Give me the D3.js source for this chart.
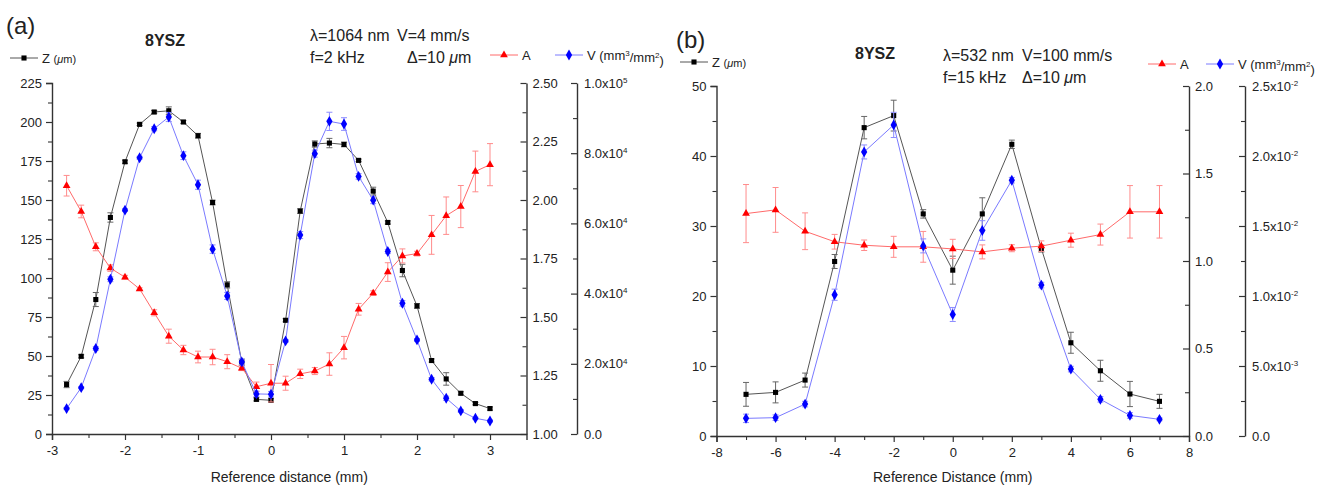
<!DOCTYPE html>
<html>
<head>
<meta charset="utf-8">
<script src="https://cdn.jsdelivr.net/npm/d3@7"></script>
<style>
  body { margin: 0; background: #fff; }
  svg text { font-family: "Liberation Sans", Arial, sans-serif; fill: #222; }
</style>
</head>
<body>
<div id="canvas"></div>
<script>
// ---- panel (a) data : lambda=1064 nm
var distA = [-2.8,-2.6,-2.4,-2.2,-2.0,-1.8,-1.6,-1.4,-1.2,-1.0,-0.8,-0.6,-0.4,-0.2,0.0,
             0.2,0.4,0.6,0.8,1.0,1.2,1.4,1.6,1.8,2.0,2.2,2.4,2.6,2.8,3.0];
var zA    = [31.7,49.8,86.2,138.8,174.5,198.5,206.4,207.2,200,191.2,148.4,95.6,46,22.2,21.6,
             72.9,142.9,185.9,186.5,185.6,175.4,155.7,135.6,104.8,82.1,47.1,35.3,26.1,19.5,16.3];
var zAerr = [2,1,4.5,3,1,0.8,1,2.5,1,1.5,1.5,2,2,1,1,1,1.5,2,3,1.5,0.8,2.5,1,4,1.5,1,4,1,0.8,1];
var aA    = [2.061,1.951,1.800,1.709,1.670,1.620,1.518,1.418,1.359,1.329,1.329,1.309,1.281,1.202,1.217,
             1.217,1.257,1.269,1.299,1.369,1.533,1.602,1.692,1.761,1.771,1.851,1.933,1.972,2.122,2.151];
var aAerr = [0.044,0.027,0.017,0.014,0.008,0.005,0.013,0.03,0.02,0.025,0.033,0.03,0.01,0.02,0.08,
             0.03,0.02,0.015,0.048,0.048,0.025,0.01,0.04,0.03,0.01,0.083,0.08,0.09,0.087,0.09];
var vA    = [7240,13200,24360,44090,63780,78710,86980,90310,79290,71020,52670,39330,20530,11420,11330,
             26530,56670,79870,89070,88310,73380,66620,52000,37240,26800,15600,10180,6580,4490,3690];
var vAerr = [300,300,500,700,400,400,600,1300,1100,1300,1200,1000,800,800,800,
             400,1000,1000,2600,1800,800,1000,600,800,400,500,600,400,300,300];

var xTicksA = [-3,-2,-1,0,1,2,3];
var zTicksA = [0,25,50,75,100,125,150,175,200,225];
var aTicksA = [1.00,1.25,1.50,1.75,2.00,2.25,2.50];
var vTicksA = [0,20000,40000,60000,80000,100000];

// ---- panel (b) data : lambda=532 nm
var distB = [-7,-6,-5,-4,-3,-2,-1,0,1,2,3,4,5,6,7];
var zB    = [5.95,6.23,7.99,24.93,44.05,45.77,31.73,23.69,31.73,41.67,26.78,13.32,9.32,6.0,4.95];
var zBerr = [1.7,1.5,1,1,1.6,2.2,0.6,2,2.3,0.6,0.5,1.5,1.5,1.8,1];
var aB    = [1.271,1.292,1.170,1.110,1.090,1.081,1.081,1.069,1.052,1.073,1.085,1.119,1.151,1.281,1.281];
var aBerr = [0.166,0.128,0.105,0.042,0.03,0.06,0.088,0.055,0.04,0.02,0.03,0.04,0.06,0.15,0.15];
var vB    = [0.00126,0.00131,0.00228,0.01009,0.02029,0.02222,0.01358,0.00868,0.01468,0.01827,
             0.01078,0.00478,0.00262,0.00147,0.00119];
var vBerr = [0.0003,0.0002,0.0002,0.0004,0.0005,0.0009,0.0005,0.0005,0.0007,0.0002,
             0.0002,0.0002,0.0002,0.0002,0.0001];

var xTicksB = [-8,-6,-4,-2,0,2,4,6,8];
var zTicksB = [0,10,20,30,40,50];
var aTicksB = [0.0,0.5,1.0,1.5,2.0];
var vTicksB = [0,0.005,0.01,0.015,0.02,0.025];

var width = 1319, height = 488;
var svg = d3.select('#canvas').append('svg')
  .attr('width', width)
  .attr('height', height);

var colZ = {line: '#555', mark: '#000', err: '#666'};
var colA = {line: '#ff6a6a', mark: '#ff0000', err: '#ff8c8c'};
var colV = {line: '#7a7aff', mark: '#0000ff', err: '#8c8cff'};

var symZ = d3.symbol().type(d3.symbolSquare).size(26);
var symA = d3.symbol().type(d3.symbolTriangle).size(26);
var symV = d3.symbol().type(d3.symbolDiamond).size(34);

// plain hyphen minus, like the original
var plain = function(d) { return String(d); };

// "m.mx10^e" style labels for the V axis
var sciLabels = function(sel) {
  sel.selectAll('.tick text').each(function(d) {
    var t = d3.select(this).text('');
    if (d === 0) { t.text('0.0'); return; }
    var e = Math.floor(Math.log10(d) + 1e-9);
    var m = (d / Math.pow(10, e)).toFixed(1);
    t.append('tspan').text(m + 'x10');
    t.append('tspan').attr('dy', '-0.6em').attr('font-size', '8px').text(e);
  });
};

var styleAxis = function(sel) {
  sel.select('.domain').attr('stroke', '#333').attr('stroke-width', 1.4);
  sel.selectAll('.tick line').attr('stroke', '#333').attr('stroke-width', 1.2);
  sel.selectAll('.tick text').attr('font-size', '13px').attr('fill', '#222');
};

// minor and major ticks each get their own group
var minorAxis = function(g, axis, vals, size) {
  g.append('g').call(axis.tickValues(vals).tickFormat('').tickSize(size))
    .call(function(s) {
      s.select('.domain').remove();
      s.selectAll('.tick line').attr('stroke', '#333').attr('stroke-width', 1.1);
    });
};

var addSeries = function(g, xs, ys, errs, x, y, col, sym) {
  var pts = xs.map(function(d, i) { return {x: d, y: ys[i], e: errs[i]}; });
  g.append('path').datum(pts)
    .attr('fill', 'none')
    .attr('stroke', col.line)
    .attr('stroke-width', 1)
    .attr('d', d3.line().x(function(d) { return x(d.x); }).y(function(d) { return y(d.y); }));
  var eb = g.append('g').attr('stroke', col.err).attr('stroke-width', 1);
  eb.selectAll('line.v').data(pts).enter().append('line')
    .attr('x1', function(d) { return x(d.x); })
    .attr('x2', function(d) { return x(d.x); })
    .attr('y1', function(d) { return y(d.y - d.e); })
    .attr('y2', function(d) { return y(d.y + d.e); });
  [-1, 1].forEach(function(s) {
    eb.selectAll('line.c' + s).data(pts).enter().append('line')
      .attr('x1', function(d) { return x(d.x) - 3; })
      .attr('x2', function(d) { return x(d.x) + 3; })
      .attr('y1', function(d) { return y(d.y + s * d.e); })
      .attr('y2', function(d) { return y(d.y + s * d.e); });
  });
  g.append('g').selectAll('path').data(pts).enter().append('path')
    .attr('d', sym)
    .attr('fill', col.mark)
    .attr('transform', function(d) { return 'translate(' + x(d.x) + ',' + y(d.y) + ')'; });
};

var legendItem = function(x0, y0, col, sym, label) {
  var g = svg.append('g');
  g.append('line').attr('x1', x0).attr('x2', x0 + 28).attr('y1', y0).attr('y2', y0)
    .attr('stroke', col.line).attr('stroke-width', 1);
  g.append('path').attr('d', sym).attr('fill', col.mark)
    .attr('transform', 'translate(' + (x0 + 14) + ',' + y0 + ')');
  var t = g.append('text').attr('x', x0 + 32).attr('y', y0 + 4.5).attr('font-size', '13px');
  label(t);
};

var labelZ = function(t) {
  t.append('tspan').text('Z ');
  t.append('tspan').attr('font-size', '11px').text('(');
  t.append('tspan').attr('font-size', '11px').attr('font-style', 'italic').text('μ');
  t.append('tspan').attr('font-size', '11px').text('m)');
};
var labelA = function(t) { t.text('A'); };
var labelV = function(t) {
  t.append('tspan').text('V (mm');
  t.append('tspan').attr('dy', '-0.5em').attr('font-size', '8px').text('3');
  t.append('tspan').attr('dy', '0.5em').text('/mm');
  t.append('tspan').attr('dy', '-0.5em').attr('font-size', '8px').text('2');
  t.append('tspan').attr('dy', '0.5em').text(')');
};

var drawPanel = function(p) {
  var x = d3.scaleLinear().domain(p.xDomain).range([p.left, p.right]);
  var yZ = d3.scaleLinear().domain([p.zTicks[0], p.zTicks[p.zTicks.length - 1]]).range([p.bottom, p.top]);
  var yA = d3.scaleLinear().domain([p.aTicks[0], p.aTicks[p.aTicks.length - 1]]).range([p.bottom, p.top]);
  var yV = d3.scaleLinear().domain([p.vTicks[0], p.vTicks[p.vTicks.length - 1]]).range([p.bottom, p.top]);
  var g = svg.append('g');

  // bottom axis
  var gx = g.append('g').attr('transform', 'translate(0,' + p.bottom + ')');
  minorAxis(gx, d3.axisBottom(x), p.xMinor, 4);
  gx.append('g').call(d3.axisBottom(x).tickValues(p.xTicks).tickFormat(plain)
      .tickSizeOuter(0).tickSize(6).tickPadding(6)).call(styleAxis);

  // left axis (Z)
  var gz = g.append('g').attr('transform', 'translate(' + p.left + ',0)');
  minorAxis(gz, d3.axisLeft(yZ), p.zMinor, 4);
  gz.append('g').call(d3.axisLeft(yZ).tickValues(p.zTicks).tickFormat(plain)
      .tickSizeOuter(0).tickSize(6).tickPadding(4)).call(styleAxis);

  // right axis (A), ticks point inwards
  var ga = g.append('g').attr('transform', 'translate(' + p.right + ',0)');
  minorAxis(ga, d3.axisRight(yA), p.aMinor, -4);
  ga.append('g').call(d3.axisRight(yA).tickValues(p.aTicks).tickFormat(d3.format(p.aFmt))
      .tickSizeOuter(0).tickSizeInner(-6).tickPadding(6)).call(styleAxis);

  // outer right axis (V)
  var gv = g.append('g').attr('transform', 'translate(' + p.vAxisX + ',0)');
  minorAxis(gv, d3.axisRight(yV), p.vMinor, -4);
  gv.append('g').call(d3.axisRight(yV).tickValues(p.vTicks).tickSizeOuter(0).tickSizeInner(-6).tickPadding(7))
    .call(styleAxis).call(sciLabels);

  addSeries(g, p.dist, p.z, p.zErr, x, yZ, colZ, symZ);
  addSeries(g, p.dist, p.a, p.aErr, x, yA, colA, symA);
  addSeries(g, p.dist, p.v, p.vErr, x, yV, colV, symV);

  svg.append('text').attr('x', (p.left + p.right) / 2).attr('y', 482)
    .attr('text-anchor', 'middle').attr('font-size', '14px').text(p.xTitle);
};

drawPanel({
  left: 52, right: 526.5, vAxisX: 577, top: 83, bottom: 434,
  xDomain: [-3, 3.5], xTicks: xTicksA, xMinor: [-2.5,-1.5,-0.5,0.5,1.5,2.5],
  zTicks: zTicksA, zMinor: d3.range(12.5, 225, 25),
  aTicks: aTicksA, aMinor: d3.range(1.125, 2.5, 0.25), aFmt: '.2f',
  vTicks: vTicksA, vMinor: [10000,30000,50000,70000,90000],
  dist: distA, z: zA, zErr: zAerr, a: aA, aErr: aAerr, v: vA, vErr: vAerr,
  xTitle: 'Reference distance (mm)'
});

drawPanel({
  left: 716.5, right: 1189, vAxisX: 1245, top: 86, bottom: 436,
  xDomain: [-8, 8], xTicks: xTicksB, xMinor: [-7,-5,-3,-1,1,3,5,7],
  zTicks: zTicksB, zMinor: [5,15,25,35,45],
  aTicks: aTicksB, aMinor: [0.25,0.75,1.25,1.75], aFmt: '.1f',
  vTicks: vTicksB, vMinor: [0.0025,0.0075,0.0125,0.0175,0.0225],
  dist: distB, z: zB, zErr: zBerr, a: aB, aErr: aBerr, v: vB, vErr: vBerr,
  xTitle: 'Reference Distance (mm)'
});

// ---- headers and legends
var txt = function(x, y, s, size, bold) {
  return svg.append('text').attr('x', x).attr('y', y).attr('font-size', size)
    .attr('font-weight', bold ? 'bold' : 'normal').text(s);
};
var muText = function(x, y, pre, size) {
  var t = svg.append('text').attr('x', x).attr('y', y).attr('font-size', size);
  t.append('tspan').text(pre);
  t.append('tspan').attr('font-style', 'italic').text('μ');
  t.append('tspan').text('m');
};

txt(6, 34, '(a)', '24px');
txt(145, 46, '8YSZ', '16px', true);
txt(310, 41, 'λ=1064 nm', '16px');
txt(397, 41, 'V=4 mm/s', '16px');
txt(310, 63, 'f=2 kHz', '16px');
muText(407, 63, 'Δ=10 ', '16px');
legendItem(10, 58, colZ, symZ, labelZ);
legendItem(490, 55, colA, symA, labelA);
legendItem(555, 55, colV, symV, labelV);

txt(676, 48, '(b)', '24px');
txt(855, 59, '8YSZ', '16px', true);
txt(943, 61, 'λ=532 nm', '16px');
txt(1022, 61, 'V=100 mm/s', '16px');
txt(943, 83, 'f=15 kHz', '16px');
muText(1022, 83, 'Δ=10 ', '16px');
legendItem(680, 62, colZ, symZ, labelZ);
legendItem(1148, 64, colA, symA, labelA);
legendItem(1206, 64, colV, symV, labelV);
</script>
</body>
</html>
